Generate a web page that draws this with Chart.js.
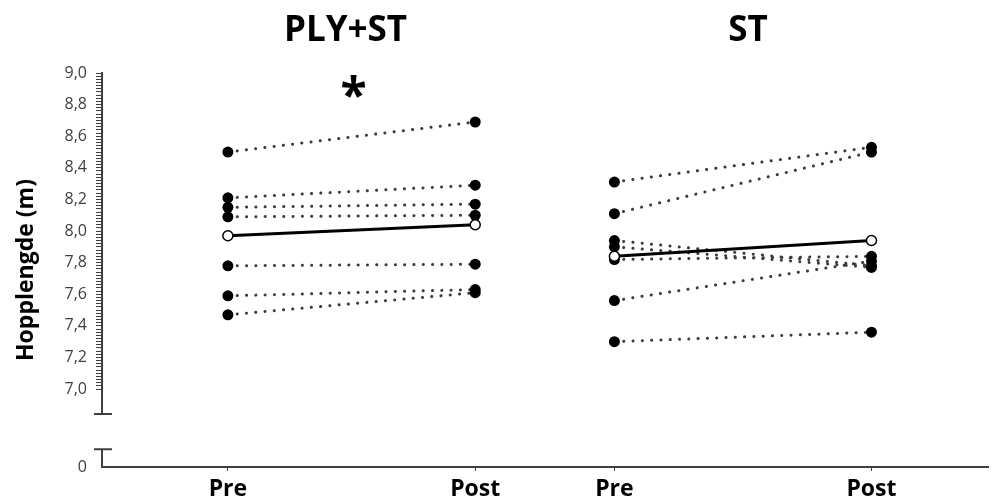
<!DOCTYPE html>
<html>
<head>
<meta charset="utf-8">
<script src="https://cdn.jsdelivr.net/npm/chart.js@4.4.1/dist/chart.umd.min.js"></script>
<style>
  html, body { margin: 0; padding: 0; background: #fff; }
  #wrap { width: 995px; height: 502px; }
</style>
</head>
<body>
<div id="wrap"><canvas id="c" width="995" height="502"></canvas></div>
<script>
// Test phases and training groups
const phases = ['Pre', 'Post'];
const groups = ['PLY+ST', 'ST'];

// Individual jump lengths (m), one entry per athlete
const plyPre  = [8.50, 8.21, 8.15, 8.09, 7.78, 7.59, 7.47];
const plyPost = [8.69, 8.29, 8.17, 8.10, 7.79, 7.63, 7.61];
const stPre   = [8.31, 8.11, 7.94, 7.90, 7.82, 7.56, 7.30];
const stPost  = [8.53, 8.50, 7.78, 7.77, 7.84, 7.81, 7.36];

// Group means (Pre, Post)
const plyMean = [7.97, 8.04];
const stMean  = [7.84, 7.94];

// Significance marker per group
const groupMarks = ['*', ''];

// Y tick labels (major), axis-break label at the bottom
const majorTicks = [7.0, 7.2, 7.4, 7.6, 7.8, 8.0, 8.2, 8.4, 8.6, 8.8, 9.0];
const breakLabel = '0';

// Layout: horizontal slots (0-100) for each group's Pre/Post, heading nudges in px
const slots = [[14.2, 42.1], [57.8, 86.8]];
const headingShift = [-6, 5];
const Y_MIN = 6.507, Y_MAX = 9.0;
const BREAK_TOP = 6.843, BREAK_BOTTOM = 6.62;
const AXIS_COLOR = '#404040';
const FONT = '"Open Sans", "Liberation Sans", sans-serif';

function subjectSet(x, pre, post) {
  return {
    data: [{ x: x[0], y: pre }, { x: x[1], y: post }],
    borderColor: '#3a3a3a',
    borderWidth: 3,
    borderDash: [0.1, 9.2],
    borderCapStyle: 'round',
    pointRadius: 5.5,
    pointHoverRadius: 5.5,
    pointBackgroundColor: '#000',
    pointBorderColor: '#000',
    pointBorderWidth: 0,
    fill: false,
    tension: 0
  };
}
function meanSet(x, m) {
  return {
    data: [{ x: x[0], y: m[0] }, { x: x[1], y: m[1] }],
    borderColor: '#000',
    borderWidth: 3,
    pointRadius: 5,
    pointHoverRadius: 5,
    pointBackgroundColor: '#fff',
    pointBorderColor: '#000',
    pointBorderWidth: 1.5,
    fill: false,
    tension: 0
  };
}

// Means first so they are drawn on top of the individual lines
const datasets = [meanSet(slots[0], plyMean), meanSet(slots[1], stMean)];
plyPre.forEach((v, i) => datasets.push(subjectSet(slots[0], v, plyPost[i])));
stPre.forEach((v, i) => datasets.push(subjectSet(slots[1], v, stPost[i])));

const xTickValues = [slots[0][0], slots[0][1], slots[1][0], slots[1][1]];
const xTickLabels = [phases[0], phases[1], phases[0], phases[1]];

const isMajor = v => majorTicks.some(t => Math.abs(t - v) < 1e-6);

// Broken y axis, group headings and significance marker
const decorations = {
  id: 'decorations',
  afterDraw(chart) {
    const { ctx, scales: { x, y } } = chart;
    const ax = x.left;
    ctx.save();
    ctx.strokeStyle = AXIS_COLOR;
    ctx.lineWidth = 2;
    const yTop = y.getPixelForValue(Y_MAX);
    const yBrk1 = y.getPixelForValue(BREAK_TOP);
    const yBrk2 = y.getPixelForValue(BREAK_BOTTOM);
    const yBot = y.getPixelForValue(Y_MIN);
    ctx.beginPath();
    ctx.moveTo(ax, yTop - 1); ctx.lineTo(ax, yBrk1);
    ctx.moveTo(ax - 8, yBrk1); ctx.lineTo(ax + 10, yBrk1);
    ctx.moveTo(ax - 8, yBrk2); ctx.lineTo(ax + 10, yBrk2);
    ctx.moveTo(ax, yBrk2); ctx.lineTo(ax, yBot + 1);
    ctx.stroke();

    ctx.fillStyle = '#000';
    ctx.textAlign = 'center';
    ctx.textBaseline = 'middle';
    groups.forEach((g, i) => {
      const cx = x.getPixelForValue((slots[i][0] + slots[i][1]) / 2);
      ctx.font = 'bold 35px ' + FONT;
      ctx.fillText(g, cx + headingShift[i], 31);
      if (groupMarks[i]) {
        ctx.font = 'bold 48px ' + FONT;
        ctx.fillText(groupMarks[i], cx + 2, 98);
      }
    });
    ctx.restore();
  }
};

new Chart(document.getElementById('c'), {
  type: 'line',
  data: { datasets },
  plugins: [decorations],
  options: {
    responsive: false,
    animation: false,
    devicePixelRatio: 1,
    layout: { padding: { top: 73, right: 0, bottom: 0, left: 0 } },
    plugins: { legend: { display: false }, tooltip: { enabled: false } },
    scales: {
      x: {
        type: 'linear',
        min: 0,
        max: 100,
        afterBuildTicks(scale) { scale.ticks = xTickValues.map(v => ({ value: v })); },
        afterFit(scale) { scale.height = 35; },
        border: { display: true, color: AXIS_COLOR, width: 2 },
        grid: { drawOnChartArea: false, drawTicks: true, tickLength: 4, color: AXIS_COLOR, lineWidth: 1 },
        ticks: {
          autoSkip: false,
          maxRotation: 0,
          padding: 5,
          color: '#000',
          font: { family: FONT, size: 23, weight: 'bold' },
          callback: (v, i) => xTickLabels[i]
        }
      },
      y: {
        type: 'linear',
        min: Y_MIN,
        max: Y_MAX,
        afterBuildTicks(scale) {
          const t = [{ value: Y_MIN }];
          for (let k = 0; k <= 100; k++) t.push({ value: +(7 + k * 0.02).toFixed(2) });
          scale.ticks = t;
        },
        afterFit(scale) { scale.width = 102; },
        border: { display: false },
        grid: {
          drawOnChartArea: false,
          drawTicks: true,
          tickLength: 6,
          lineWidth: 1,
          tickColor: ctx => (ctx.tick && ctx.tick.value === Y_MIN) ? 'rgba(0,0,0,0)' : AXIS_COLOR
        },
        ticks: {
          autoSkip: false,
          padding: 9,
          color: '#404040',
          font: { family: FONT, size: 16 },
          callback: v => {
            if (Math.abs(v - Y_MIN) < 1e-6) return breakLabel;
            return isMajor(v) ? v.toFixed(1).replace('.', ',') : '';
          }
        },
        title: {
          display: true,
          text: 'Hopplengde (m)',
          color: '#000',
          font: { family: FONT, size: 23, weight: 'bold' },
          padding: { top: 13, bottom: 0 }
        }
      }
    }
  }
});
</script>
</body>
</html>
